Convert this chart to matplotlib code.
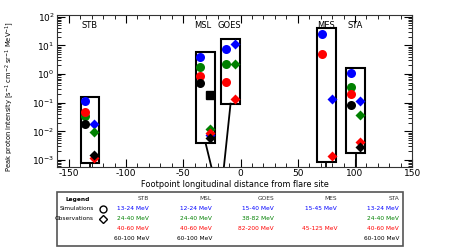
import matplotlib
matplotlib.use("Agg")
import matplotlib.pyplot as plt
from matplotlib.patches import Rectangle, FancyBboxPatch
from matplotlib.lines import Line2D
import numpy as np

plt.rcParams['font.family'] = ['DejaVu Sans']
plt.rcParams['axes.unicode_minus'] = False

colors = ['blue', 'green', 'red', 'black']

# Spacecraft labels, label x positions
sc_names = ['STB', 'MSL', 'GOES', 'MES', 'STA']
sc_label_x = [-131.5, -33, -10, 75, 100]

# Boxes: (x_left, x_right, y_bottom, y_top)
box_x0 = [-139.7, -39.0, -17.2, 67.2, 92.2]
box_x1 = [-123.5, -22.4, -0.6, 83.5, 108.8]
box_y0 = [7.9e-4, 3.9e-3, 0.093, 8.8e-4, 1.8e-3]
box_y1 = [0.16, 6.0, 16.6, 40.0, 1.6]

# Connector lines: (x at box bottom, x at axis bottom)
conn_x_top = [-131.6, -30.5, -8.7, 75.0, 100.4]
conn_x_bot = [-131.6, -25.5, -14.5, 75.0, 100.4]

# Simulations (circles): x positions and values per channel (blue, green, red, black)
sim_x = [-136, -35, -12.8, 71.3, 96.3]
sim_vals = [
    [0.115, 0.035, 0.049, 0.018],
    [4.0, 1.7, 0.85, 0.5],
    [7.5, 2.3, 0.54, None],
    [26.0, None, 4.9, None],
    [1.1, 0.36, 0.2, 0.083],
]
# Observations (diamonds)
obs_x = [-128, -27, -5, 79.5, 104.5]
obs_vals = [
    [0.018, 0.0093, 0.0012, 0.0015],
    [0.0075, 0.0118, 0.009, 0.006],
    [11.5, 2.2, 0.14, None],
    [0.13, None, 0.0014, None],
    [0.115, 0.036, 0.0042, 0.0028],
]
# MSL black square
sq_x = [-27]
sq_y = [0.19]

# Table texts
table_rows = {
    'STB': ['13-24 MeV', '24-40 MeV', '40-60 MeV', '60-100 MeV'],
    'MSL': ['12-24 MeV', '24-40 MeV', '40-60 MeV', '60-100 MeV'],
    'GOES': ['15-40 MeV', '38-82 MeV', '82-200 MeV', ''],
    'MES': ['15-45 MeV', '', '45-125 MeV', ''],
    'STA': ['13-24 MeV', '24-40 MeV', '40-60 MeV', '60-100 MeV'],
}

W, H = 449, 252
fig = plt.figure(figsize=(W / 100, H / 100), dpi=100)
ax = fig.add_axes([57.3 / W, 1 - 166.7 / H, (412.3 - 57.3) / W, (166.7 - 15) / H])
ax.set_xlim(-160, 150)
ax.set_yscale('log')
ax.set_ylim(5.86e-4, 1.15e2)

for i in range(5):
    ax.add_patch(Rectangle((box_x0[i], box_y0[i]), box_x1[i] - box_x0[i], box_y1[i] - box_y0[i],
                           fill=False, edgecolor='black', lw=1.5, zorder=2))
    ax.plot([conn_x_top[i], conn_x_bot[i]], [box_y0[i], 5.86e-4], color='black', lw=1.3, zorder=2)
    ax.text(sc_label_x[i], 50, sc_names[i], ha='center', va='center', fontsize=6)

ax.plot(sq_x, sq_y, 's', color='black', ms=5.5, zorder=3)
for i in range(5):
    for c in range(4):
        v = sim_vals[i][c]
        if v is not None:
            ax.plot(sim_x[i], v, 'o', color=colors[c], ms=6.5, mec='none', zorder=3)
        v = obs_vals[i][c]
        if v is not None:
            ax.plot(obs_x[i], v, 'D', color=colors[c], ms=4.8, mec='none', zorder=3)

ax.set_xticks(np.arange(-150, 151, 50))
ax.set_xticks(np.arange(-160, 151, 10), minor=True)
ax.tick_params(which='both', direction='in', top=True, right=True, labelsize=6.5, pad=2)
ax.tick_params(which='major', length=6, width=0.8)
ax.tick_params(which='minor', length=3, width=0.6)
ax.set_xlabel('Footpoint longitudinal distance from flare site', fontsize=5.9, labelpad=1)
ax.set_ylabel('Peak proton intensity [s$^{-1}$ cm$^{-2}$ sr$^{-1}$ MeV$^{-1}$]', fontsize=4.9)
ax.yaxis.set_label_coords(-0.115, 0.46)
for s in ax.spines.values():
    s.set_linewidth(0.8)
    s.set_color('#333333')

# Table box
fig.patches.append(FancyBboxPatch((57 / W, 1 - 246 / H), (403 - 57) / W, (246 - 192) / H,
                                  boxstyle='square,pad=0', transform=fig.transFigure,
                                  fill=False, edgecolor='#555555', lw=1.2))
row_y = [199, 209, 219, 228.5, 238]
fs = 4.2
fig.text(78 / W, 1 - row_y[0] / H, 'Legend', ha='center', va='center', fontsize=fs, weight='bold')
fig.text(94 / W, 1 - row_y[1] / H, 'Simulations', ha='right', va='center', fontsize=fs)
fig.text(94 / W, 1 - row_y[2] / H, 'Observations', ha='right', va='center', fontsize=fs)
fig.add_artist(Line2D([103 / W], [1 - row_y[1] / H], marker='o', ms=5, mfc='none', mec='black',
                      mew=1, transform=fig.transFigure))
fig.add_artist(Line2D([103 / W], [1 - row_y[2] / H], marker='D', ms=4, mfc='none', mec='black',
                      mew=1, transform=fig.transFigure))
col_x = [149, 212, 274, 337, 399]
for j, name in enumerate(sc_names):
    fig.text(col_x[j] / W, 1 - row_y[0] / H, name, ha='right', va='center', fontsize=fs, color='#333333')
    for r, t in enumerate(table_rows[name]):
        if t:
            fig.text(col_x[j] / W, 1 - row_y[r + 1] / H, t, ha='right', va='center',
                     fontsize=fs, color=colors[r])

fig.savefig('out.png', dpi=100)
